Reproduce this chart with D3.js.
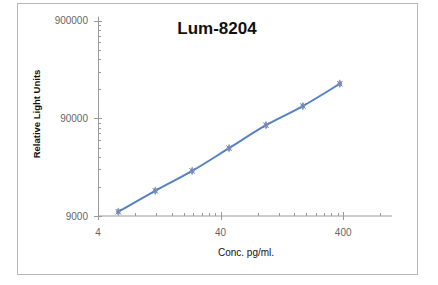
<!DOCTYPE html>
<html>
<head>
<meta charset="utf-8">
<script src="https://cdn.jsdelivr.net/npm/d3@7"></script>
<style>
  body { margin: 0; background: #fff; }
  svg text { font-family: "Liberation Sans", Arial, sans-serif; }
</style>
</head>
<body>
<div id="chart"></div>
<script>
// data
const concentrations = [5.86, 11.72, 23.44, 46.88, 93.75, 187.5, 375];
const rluValues = [9950, 16300, 26000, 44500, 76400, 120000, 203000];
const xTickValues = [4, 40, 400];
const yTickValues = [9000, 90000, 900000];
const xTickLabels = ["4", "40", "400"];
const yTickLabels = ["9000", "90000", "900000"];

const width = 438,
  height = 285;

const svg = d3
  .select("#chart")
  .append("svg")
  .attr("width", width)
  .attr("height", height);

// outer frame
svg
  .append("rect")
  .attr("x", 17.5)
  .attr("y", 3.5)
  .attr("width", 400)
  .attr("height", 271)
  .attr("fill", "none")
  .attr("stroke", "#b8b8b8");

const x = d3.scaleLog().domain([4, 1000]).range([98, 392]);
const y = d3.scaleLog().domain([9000, 900000]).range([216, 20.5]);

// minor ticks: multiples of the decade start
function minorTicks(start, end) {
  const out = [];
  for (let base = start; base < end; base *= 10) {
    for (let k = 2; k <= 9; k++) {
      const v = base * k;
      if (v < end) out.push(v);
    }
  }
  return out;
}

const axisColor = "#9a9a9a";

// x axis
const xAxis = svg.append("g");
xAxis
  .append("line")
  .attr("x1", x.range()[0])
  .attr("x2", x.range()[1])
  .attr("y1", y(9000))
  .attr("y2", y(9000))
  .attr("stroke", axisColor);
xAxis
  .selectAll(".minor")
  .data(minorTicks(4, 1000))
  .join("line")
  .attr("x1", (d) => Math.round(x(d)) + 0.5)
  .attr("x2", (d) => Math.round(x(d)) + 0.5)
  .attr("y1", y(9000) - 3)
  .attr("y2", y(9000))
  .attr("stroke", axisColor);
xAxis
  .selectAll(".major")
  .data(xTickValues)
  .join("line")
  .attr("x1", (d) => Math.round(x(d)) + 0.5)
  .attr("x2", (d) => Math.round(x(d)) + 0.5)
  .attr("y1", y(9000) - 4)
  .attr("y2", y(9000) + 4)
  .attr("stroke", axisColor);
xAxis
  .selectAll("text")
  .data(xTickValues)
  .join("text")
  .attr("x", (d) => x(d))
  .attr("y", 236)
  .attr("text-anchor", "middle")
  .attr("font-size", 10)
  .attr("fill", "#666")
  .text((d, i) => xTickLabels[i]);

// y axis
const yAxis = svg.append("g");
yAxis
  .append("line")
  .attr("x1", x(4) + 0.5)
  .attr("x2", x(4) + 0.5)
  .attr("y1", y.range()[0])
  .attr("y2", y.range()[1] - 4)
  .attr("stroke", axisColor);
yAxis
  .selectAll(".minor")
  .data(minorTicks(9000, 900000))
  .join("line")
  .attr("x1", x(4))
  .attr("x2", x(4) + 3)
  .attr("y1", (d) => Math.round(y(d)) + 0.5)
  .attr("y2", (d) => Math.round(y(d)) + 0.5)
  .attr("stroke", axisColor);
yAxis
  .selectAll(".major")
  .data(yTickValues)
  .join("line")
  .attr("x1", x(4) - 4)
  .attr("x2", x(4) + 4)
  .attr("y1", (d) => Math.round(y(d)) + 0.5)
  .attr("y2", (d) => Math.round(y(d)) + 0.5)
  .attr("stroke", axisColor);
yAxis
  .selectAll("text")
  .data(yTickValues)
  .join("text")
  .attr("x", 88)
  .attr("y", (d) => y(d) + 3.5)
  .attr("text-anchor", "end")
  .attr("font-size", 10)
  .attr("fill", "#666")
  .text((d, i) => yTickLabels[i]);

// titles
svg
  .append("text")
  .attr("x", 217)
  .attr("y", 34)
  .attr("text-anchor", "middle")
  .attr("font-size", 17)
  .attr("font-weight", "bold")
  .attr("fill", "#111")
  .text("Lum-8204");

svg
  .append("text")
  .attr("transform", "translate(40,114) rotate(-90)")
  .attr("text-anchor", "middle")
  .attr("font-size", 9.5)
  .attr("font-weight", "bold")
  .attr("fill", "#111")
  .text("Relative Light Units");

svg
  .append("text")
  .attr("x", 246)
  .attr("y", 256)
  .attr("text-anchor", "middle")
  .attr("font-size", 10)
  .attr("fill", "#111")
  .text("Conc. pg/ml.");

// curve
const points = concentrations.map((c, i) => [c, rluValues[i]]);
const line = d3
  .line()
  .x((d) => x(d[0]))
  .y((d) => y(d[1]))
  .curve(d3.curveMonotoneX);

svg
  .append("path")
  .datum(points)
  .attr("d", line)
  .attr("fill", "none")
  .attr("stroke", "#5582c4")
  .attr("stroke-width", 2);

// markers: small diamond with a cross, like the reference
const markers = svg
  .selectAll(".marker")
  .data(points)
  .join("g")
  .attr("class", "marker")
  .attr("transform", (d) => `translate(${x(d[0])},${y(d[1])})`);
markers
  .append("path")
  .attr("d", d3.symbol().type(d3.symbolDiamond).size(22))
  .attr("fill", "#8494bb");
markers
  .append("path")
  .attr("d", d3.symbol().type(d3.symbolTimes).size(22))
  .attr("fill", "none")
  .attr("stroke", "#7283ad")
  .attr("stroke-width", 1);
</script>
</body>
</html>
